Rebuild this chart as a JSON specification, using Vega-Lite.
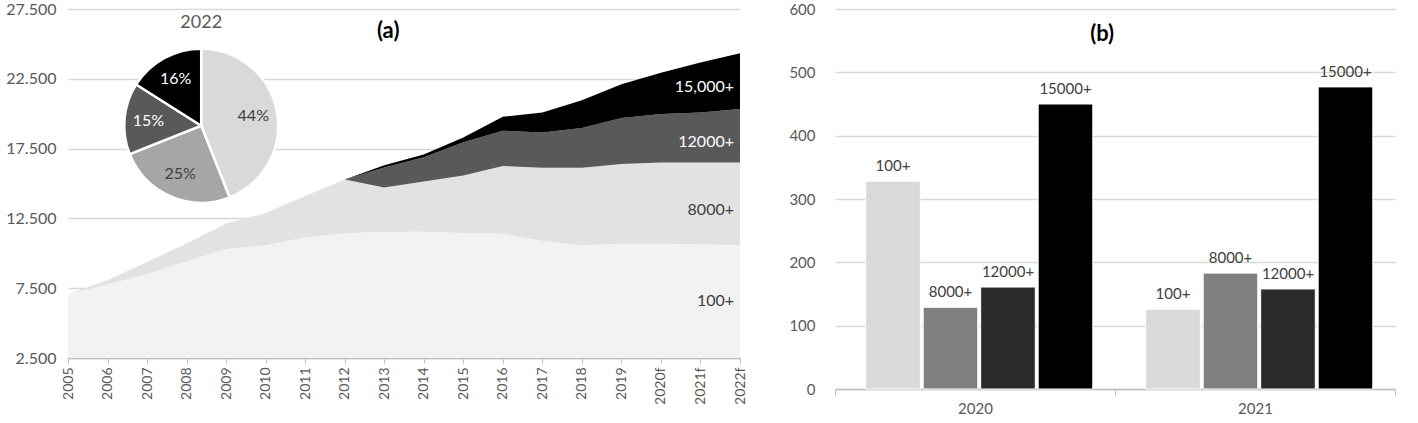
{
  "$schema": "https://vega.github.io/schema/vega-lite/v6.json",
  "background": "white",
  "padding": {"left": 5, "top": 1, "right": 5, "bottom": 0},
  "config": {
    "font": "Lato",
    "view": {"stroke": null},
    "axis": {"labelColor": "#595959", "labelFont": "Lato", "gridColor": "#d9d9d9", "gridWidth": 1.5, "domainColor": "#bfbfbf", "tickColor": "#bfbfbf", "domainWidth": 1.5},
    "axisQuantitative": {"labelOverlap": false},
    "axisX": {"labelOverlap": false}
  },
  "datasets": {
    "area": [
      {"year": 2005, "series": "100+", "value": 7070}, {"year": 2006, "series": "100+", "value": 7780}, {"year": 2007, "series": "100+", "value": 8500}, {"year": 2008, "series": "100+", "value": 9430}, {"year": 2009, "series": "100+", "value": 10300}, {"year": 2010, "series": "100+", "value": 10570}, {"year": 2011, "series": "100+", "value": 11140}, {"year": 2012, "series": "100+", "value": 11430}, {"year": 2013, "series": "100+", "value": 11520}, {"year": 2014, "series": "100+", "value": 11550}, {"year": 2015, "series": "100+", "value": 11450}, {"year": 2016, "series": "100+", "value": 11400}, {"year": 2017, "series": "100+", "value": 10880}, {"year": 2018, "series": "100+", "value": 10570}, {"year": 2019, "series": "100+", "value": 10690}, {"year": 2020, "series": "100+", "value": 10690}, {"year": 2021, "series": "100+", "value": 10650}, {"year": 2022, "series": "100+", "value": 10570},
      {"year": 2005, "series": "8000+", "value": 0}, {"year": 2006, "series": "8000+", "value": 290}, {"year": 2007, "series": "8000+", "value": 880}, {"year": 2008, "series": "8000+", "value": 1280}, {"year": 2009, "series": "8000+", "value": 1840}, {"year": 2010, "series": "8000+", "value": 2310}, {"year": 2011, "series": "8000+", "value": 2960}, {"year": 2012, "series": "8000+", "value": 3850}, {"year": 2013, "series": "8000+", "value": 3190}, {"year": 2014, "series": "8000+", "value": 3590}, {"year": 2015, "series": "8000+", "value": 4120}, {"year": 2016, "series": "8000+", "value": 4860}, {"year": 2017, "series": "8000+", "value": 5240}, {"year": 2018, "series": "8000+", "value": 5550}, {"year": 2019, "series": "8000+", "value": 5710}, {"year": 2020, "series": "8000+", "value": 5810}, {"year": 2021, "series": "8000+", "value": 5850}, {"year": 2022, "series": "8000+", "value": 5930},
      {"year": 2012, "series": "12000+", "value": 0}, {"year": 2013, "series": "12000+", "value": 1440}, {"year": 2014, "series": "12000+", "value": 1740}, {"year": 2015, "series": "12000+", "value": 2380}, {"year": 2016, "series": "12000+", "value": 2520}, {"year": 2017, "series": "12000+", "value": 2540}, {"year": 2018, "series": "12000+", "value": 2850}, {"year": 2019, "series": "12000+", "value": 3290}, {"year": 2020, "series": "12000+", "value": 3470}, {"year": 2021, "series": "12000+", "value": 3590}, {"year": 2022, "series": "12000+", "value": 3830},
      {"year": 2012, "series": "15,000+", "value": 0}, {"year": 2013, "series": "15,000+", "value": 150}, {"year": 2014, "series": "15,000+", "value": 190}, {"year": 2015, "series": "15,000+", "value": 350}, {"year": 2016, "series": "15,000+", "value": 1000}, {"year": 2017, "series": "15,000+", "value": 1430}, {"year": 2018, "series": "15,000+", "value": 2000}, {"year": 2019, "series": "15,000+", "value": 2420}, {"year": 2020, "series": "15,000+", "value": 2970}, {"year": 2021, "series": "15,000+", "value": 3570}, {"year": 2022, "series": "15,000+", "value": 4000}
    ],
    "pie": [
      {"segment": "100+", "share": 44},
      {"segment": "8000+", "share": 25},
      {"segment": "12000+", "share": 15},
      {"segment": "15,000+", "share": 16}
    ],
    "bars": [
      {"year": "2020", "series": "100+", "count": 328},
      {"year": "2020", "series": "8000+", "count": 129},
      {"year": "2020", "series": "12000+", "count": 161},
      {"year": "2020", "series": "15000+", "count": 450},
      {"year": "2021", "series": "100+", "count": 126},
      {"year": "2021", "series": "8000+", "count": 183},
      {"year": "2021", "series": "12000+", "count": 158},
      {"year": "2021", "series": "15000+", "count": 477}
    ]
  },
  "spacing": 41,
  "hconcat": [
    {
      "width": 672,
      "height": 349,
      "resolve": {"scale": {"color": "independent"}},
      "layer": [
        {
          "data": {"name": "area"},
          "transform": [{"calculate": "indexof(['100+','8000+','12000+','15,000+'], datum.series)", "as": "ord"}],
          "mark": {"type": "area", "clip": true, "interpolate": "linear"},
          "encoding": {
            "x": {"field": "year", "type": "quantitative", "scale": {"domain": [2005, 2022], "nice": false, "zero": false},
              "axis": {"tickCount": 17, "tickMinStep": 1, "format": "d", "labelExpr": "datum.value >= 2020 ? datum.label + 'f' : datum.label", "labelAngle": -90, "labelAlign": "right", "labelBaseline": "middle", "labelFontSize": 14, "labelPadding": 4, "tickSize": 5, "grid": false, "title": null, "labelOverlap": false, "labelBound": false, "labelFlush": false}},
            "y": {"field": "value", "type": "quantitative", "stack": "zero", "scale": {"domain": [2500, 27500], "nice": false, "zero": false},
              "axis": {"values": [2500, 7500, 12500, 17500, 22500, 27500], "labelExpr": "replace(format(datum.value, ','), ',', '.')", "ticks": false, "domain": false, "grid": true, "title": null, "labelPadding": 12, "labelFontSize": 16}},
            "color": {"field": "series", "type": "nominal", "scale": {"domain": ["100+", "8000+", "12000+", "15,000+"], "range": ["#f2f2f2", "#e2e2e2", "#595959", "#000000"]}, "legend": null},
            "order": {"field": "ord", "type": "quantitative"}
          }
        },
        {
          "data": {"name": "area"},
          "transform": [
            {"filter": "datum.year == 2022"},
            {"calculate": "indexof(['100+','8000+','12000+','15,000+'], datum.series)", "as": "ord"},
            {"stack": "value", "groupby": ["year"], "sort": [{"field": "ord"}], "as": ["v0", "v1"]},
            {"calculate": "(max(datum.v0, 3500) + datum.v1) / 2", "as": "mid"}
          ],
          "mark": {"type": "text", "align": "right", "baseline": "middle", "dx": -6, "dy": 6, "fontSize": 16},
          "encoding": {
            "x": {"field": "year", "type": "quantitative"},
            "y": {"field": "mid", "type": "quantitative"},
            "text": {"field": "series"},
            "color": {"field": "series", "type": "nominal", "scale": {"domain": ["100+", "8000+", "12000+", "15,000+"], "range": ["#404040", "#404040", "#ffffff", "#ffffff"]}, "legend": null}
          }
        },
        {
          "data": {"name": "pie"},
          "transform": [{"calculate": "indexof(['100+','8000+','12000+','15,000+'], datum.segment)", "as": "ord"}],
          "mark": {"type": "arc", "outerRadius": 77, "stroke": "white", "strokeWidth": 2.5},
          "encoding": {
            "theta": {"field": "share", "type": "quantitative", "stack": true},
            "order": {"field": "ord", "type": "quantitative"},
            "color": {"field": "segment", "type": "nominal", "scale": {"domain": ["100+", "8000+", "12000+", "15,000+"], "range": ["#d9d9d9", "#a6a6a6", "#595959", "#000000"]}, "legend": null},
            "x": {"datum": 2008.37, "type": "quantitative"},
            "y": {"datum": 19140, "type": "quantitative"}
          }
        },
        {
          "data": {"name": "pie"},
          "transform": [
            {"calculate": "indexof(['100+','8000+','12000+','15,000+'], datum.segment)", "as": "ord"},
            {"calculate": "datum.share + '%'", "as": "label"}
          ],
          "mark": {"type": "text", "radius": 53, "fontSize": 16},
          "encoding": {
            "theta": {"field": "share", "type": "quantitative", "stack": true},
            "order": {"field": "ord", "type": "quantitative"},
            "text": {"field": "label"},
            "color": {"field": "segment", "type": "nominal", "scale": {"domain": ["100+", "8000+", "12000+", "15,000+"], "range": ["#404040", "#404040", "#ffffff", "#ffffff"]}, "legend": null},
            "x": {"datum": 2008.37, "type": "quantitative"},
            "y": {"datum": 19140, "type": "quantitative"}
          }
        },
        {
          "data": {"values": [{"t": "2022"}]},
          "mark": {"type": "text", "fontSize": 18, "color": "#595959"},
          "encoding": {
            "text": {"field": "t"},
            "x": {"datum": 2008.37, "type": "quantitative"},
            "y": {"datum": 26490, "type": "quantitative"}
          }
        },
        {
          "data": {"values": [{"t": "(a)"}]},
          "mark": {"type": "text", "fontSize": 22, "fontWeight": "bold", "color": "#000000"},
          "encoding": {
            "text": {"field": "t"},
            "x": {"datum": 2013.1, "type": "quantitative"},
            "y": {"datum": 25920, "type": "quantitative"}
          }
        }
      ]
    },
    {
      "width": 560,
      "height": 380,
      "layer": [
        {
          "data": {"name": "bars"},
          "mark": {"type": "bar", "stroke": "white", "strokeWidth": 1},
          "encoding": {
            "x": {"field": "year", "type": "nominal", "scale": {"paddingInner": 0, "paddingOuter": 0},
              "axis": {"title": null, "labelAngle": 0, "tickBand": "extent", "ticks": true, "tickSize": 6, "domain": true, "grid": false, "labelFontSize": 15, "labelPadding": 6}},
            "xOffset": {"field": "series", "type": "nominal", "sort": ["100+", "8000+", "12000+", "15000+"], "scale": {"paddingInner": 0.05, "paddingOuter": 0.46, "align": 0.58}},
            "y": {"field": "count", "type": "quantitative", "scale": {"domain": [0, 600], "nice": false},
              "axis": {"values": [0, 100, 200, 300, 400, 500, 600], "title": null, "ticks": false, "domain": false, "grid": true, "labelPadding": 20, "labelFontSize": 15}},
            "color": {"field": "series", "type": "nominal", "sort": ["100+", "8000+", "12000+", "15000+"], "scale": {"domain": ["100+", "8000+", "12000+", "15000+"], "range": ["#d9d9d9", "#808080", "#2b2b2b", "#000000"]}, "legend": null}
          }
        },
        {
          "data": {"name": "bars"},
          "mark": {"type": "text", "baseline": "bottom", "dy": -7, "fontSize": 15, "color": "#404040"},
          "encoding": {
            "x": {"field": "year", "type": "nominal"},
            "xOffset": {"field": "series", "type": "nominal", "sort": ["100+", "8000+", "12000+", "15000+"]},
            "y": {"field": "count", "type": "quantitative"},
            "text": {"field": "series"}
          }
        },
        {
          "data": {"values": [{"t": "(b)"}]},
          "mark": {"type": "text", "fontSize": 22, "fontWeight": "bold", "color": "#000000"},
          "encoding": {
            "text": {"field": "t"},
            "x": {"datum": "2020", "type": "nominal", "bandPosition": 0.954},
            "y": {"datum": 560, "type": "quantitative"}
          }
        }
      ]
    }
  ]
}
